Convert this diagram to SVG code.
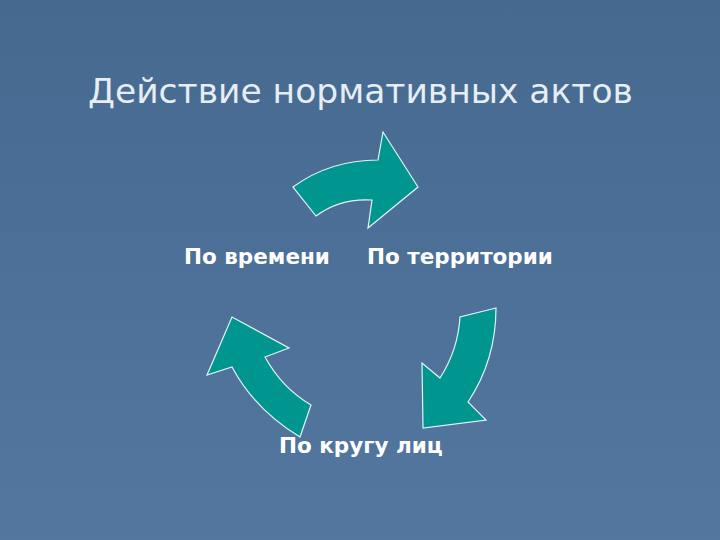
<svg xmlns="http://www.w3.org/2000/svg" width="720" height="540" viewBox="0 0 720 540">
<style>
.ar{fill:#00968f;stroke:#e0f4f4;stroke-width:1.2}
.lb{font-family:"DejaVu Sans",sans-serif;font-weight:bold;font-size:21.5px;fill:#ffffff}
</style>
<defs><linearGradient id="bg" x1="0" y1="0" x2="0" y2="1"><stop offset="0" stop-color="#45698f"/><stop offset="1" stop-color="#5477a0"/></linearGradient></defs>
<rect width="720" height="540" fill="url(#bg)"/>
<text x="88" y="103" font-family="DejaVu Sans, sans-serif" font-size="34.5" fill="#e6edf5">Действие нормативных актов</text>
<g id="connectors">
<path class="ar" d="M293,187 Q330,160 378,160 L383,132 L418,187 L368,228 L372,200 Q340,198 316,216 Z"/>
<path class="ar" d="M496,308 L460,317 Q458,350 440,378 L422,363 L423,428 L486,420 L468,402 Q496,360 496,308 Z"/>
<path class="ar" d="M207,375 L232,317 L289,348 L265,357 Q282,388 311,405 L300,437 Q255,410 232,367 Z"/>
</g>
<g id="n1"><text class="lb" x="184" y="264">По времени</text></g>
<g id="n2"><text class="lb" x="367" y="264">По территории</text></g>
<g id="n3"><text class="lb" x="279" y="453">По кругу лиц</text></g>
</svg>
